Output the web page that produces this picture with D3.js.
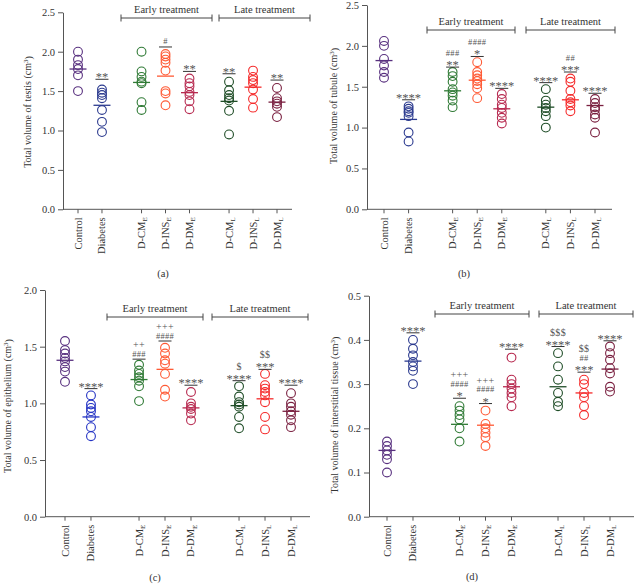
<!DOCTYPE html>
<html>
<head>
<meta charset="utf-8">
<script src="https://cdn.jsdelivr.net/npm/d3@7"></script>
<style>
  body { margin: 0; background: #fff; }
  svg { display: block; font-family: "Liberation Serif", "DejaVu Serif", serif; }
</style>
</head>
<body>
<svg id="chart" width="634" height="585"></svg>
<script>
// groups on the x axis
var groupNames = ["Control", "Diabetes", "D-CM", "D-INS", "D-DM", "D-CM", "D-INS", "D-DM"];
var groupSubs = ["", "", "E", "E", "E", "L", "L", "L"];
var groupBlock = [0, 0, 1, 1, 1, 2, 2, 2];
var groupColors = ["#58307f", "#2b3a8f", "#2f7a35", "#ff5a35", "#b7294f", "#1f4d27", "#f52a2a", "#7a2040"];

// (a) testis
var testisValues = [
  [2.0, 1.9, 1.83, 1.78, 1.7, 1.5],
  [1.52, 1.48, 1.45, 1.41, 1.26, 1.11, 0.98],
  [2.0, 1.75, 1.68, 1.62, 1.6, 1.36, 1.26],
  [1.97, 1.94, 1.9, 1.86, 1.76, 1.5, 1.47, 1.32],
  [1.66, 1.6, 1.56, 1.49, 1.45, 1.37, 1.27],
  [1.62, 1.51, 1.45, 1.41, 1.38, 1.25, 0.95],
  [1.76, 1.68, 1.64, 1.6, 1.52, 1.4, 1.29],
  [1.54, 1.41, 1.37, 1.34, 1.3, 1.17]
];
var testisMeans = [1.78, 1.32, 1.61, 1.69, 1.48, 1.37, 1.55, 1.36];
var testisSigAt = [null, 1.65, null, 2.06, 1.75, 1.72, null, 1.64];
var testisSigText = [[], ["**"], [], ["#"], ["**"], ["**"], [], ["**"]];

// (b) tubule
var tubuleValues = [
  [2.06, 2.0, 1.84, 1.76, 1.68, 1.61],
  [1.26, 1.23, 1.2, 1.18, 1.14, 0.94, 0.83],
  [1.68, 1.63, 1.56, 1.47, 1.43, 1.39, 1.33, 1.25],
  [1.8, 1.68, 1.64, 1.6, 1.57, 1.53, 1.48, 1.36],
  [1.41, 1.35, 1.28, 1.24, 1.18, 1.12, 1.05],
  [1.47, 1.33, 1.28, 1.24, 1.2, 1.14, 1.0],
  [1.6, 1.56, 1.45, 1.35, 1.31, 1.27, 1.2],
  [1.35, 1.3, 1.25, 1.22, 1.16, 1.12, 0.94]
];
var tubuleMeans = [1.82, 1.1, 1.45, 1.58, 1.23, 1.25, 1.34, 1.27];
var tubuleSigAt = [null, 1.34, 1.74, 1.87, 1.48, 1.55, 1.68, 1.42];
var tubuleSigText = [[], ["****"], ["**", "###"], ["*", "####"], ["****"], ["****"], ["***", "##"], ["****"]];

// (c) epithelium
var epitheliumValues = [
  [1.55, 1.47, 1.44, 1.4, 1.37, 1.32, 1.28, 1.19],
  [1.07, 0.99, 0.96, 0.93, 0.88, 0.79, 0.71],
  [1.34, 1.29, 1.26, 1.23, 1.2, 1.15, 1.02],
  [1.49, 1.44, 1.38, 1.35, 1.26, 1.12, 1.06],
  [1.1, 1.0, 0.97, 0.95, 0.91, 0.85],
  [1.15, 1.06, 1.01, 0.99, 0.97, 0.88, 0.78],
  [1.26, 1.16, 1.13, 1.1, 1.07, 1.01, 0.88, 0.77],
  [1.09, 1.0, 0.97, 0.93, 0.9, 0.85, 0.79]
];
var epitheliumMeans = [1.38, 0.88, 1.21, 1.30, 0.96, 0.98, 1.04, 0.93];
var epitheliumSigAt = [null, 1.13, 1.39, 1.55, 1.16, 1.2, 1.3, 1.16];
var epitheliumSigText = [[], ["****"], ["###", "++"], ["####", "+++"], ["****"], ["****", "$"], ["***", "$$"], ["****"]];

// (d) interstitial tissue
var interstitialValues = [
  [0.17, 0.16, 0.15, 0.14, 0.13, 0.10],
  [0.40, 0.38, 0.365, 0.35, 0.34, 0.33, 0.30],
  [0.25, 0.24, 0.23, 0.22, 0.20, 0.17],
  [0.24, 0.21, 0.20, 0.19, 0.18, 0.16],
  [0.36, 0.31, 0.30, 0.29, 0.28, 0.27, 0.25],
  [0.37, 0.34, 0.31, 0.28, 0.26, 0.25],
  [0.31, 0.30, 0.28, 0.27, 0.25, 0.23],
  [0.385, 0.37, 0.355, 0.336, 0.324, 0.294, 0.283]
];
var interstitialMeans = [0.15, 0.352, 0.209, 0.207, 0.294, 0.294, 0.28, 0.334];
var interstitialSigAt = [null, 0.416, 0.268, 0.256, 0.379, 0.385, 0.327, 0.398];
var interstitialSigText = [[], ["****"], ["*", "####", "+++"], ["*", "####", "+++"], ["****"], ["****", "$$$"], ["***", "##", "$$"], ["****"]];

var svg = d3.select("#chart");

// vertical nudge so each symbol row sits centred where it should
function glyphShift(s) {
  if (s[0] == "*") return 7.5;
  if (s[0] == "#") return 3;
  if (s[0] == "+") return 3.5;
  return 3.5;
}
function glyphSize(s) {
  if (s[0] == "*") return 12.5;
  if (s[0] == "#") return 8.5;
  return 10;
}

function drawPanel(p) {
  var g = svg.append("g");

  // y scale
  var y = d3.scaleLinear().domain([0, p.yMax]).range([p.y0, p.yTop]);

  // x: slot index with gaps between the blocks
  var slots = groupNames.map((d, i) => i + groupBlock[i] * p.gap);
  var x = d3.scaleLinear().domain([0, 7 + 2 * p.gap]).range([p.xFirst, p.xLast]);

  // y axis
  var yAxis = g.append("g")
    .attr("transform", "translate(" + p.axisX + ",0)")
    .call(d3.axisLeft(y).tickValues(p.yTicks).tickFormat(d3.format(".1f")).tickSize(5).tickSizeOuter(0).tickPadding(3));
  yAxis.select(".domain").attr("stroke", "#555");
  yAxis.selectAll(".tick line").attr("stroke", "#555");
  yAxis.selectAll(".tick text")
    .attr("fill", "#333")
    .style("font-family", "Liberation Serif")
    .style("font-size", "10.5px");

  // x axis line + ticks
  g.append("line")
    .attr("x1", p.axisX).attr("x2", p.axisRight)
    .attr("y1", p.y0).attr("y2", p.y0)
    .attr("stroke", "#555");
  g.selectAll(".xtick")
    .data(slots)
    .enter()
    .append("line")
    .attr("x1", d => x(d)).attr("x2", d => x(d))
    .attr("y1", p.y0).attr("y2", p.y0 + 4)
    .attr("stroke", "#555");

  // rotated x labels
  var xl = g.selectAll(".xlab")
    .data(groupNames)
    .enter()
    .append("text")
    .attr("transform", (d, i) => "translate(" + (x(slots[i]) + 3.5) + "," + (p.y0 + 8) + ") rotate(-90)")
    .attr("text-anchor", "end")
    .attr("fill", "#333")
    .style("font-size", "10.5px");
  xl.append("tspan").text(d => d);
  xl.append("tspan")
    .attr("dy", "0.3em")
    .style("font-size", "7px")
    .text((d, i) => groupSubs[i]);

  // y axis title
  var title = g.append("text")
    .attr("transform", "translate(" + p.titleX + "," + p.titleY + ") rotate(-90)")
    .attr("text-anchor", "middle")
    .attr("fill", "#333")
    .style("font-size", "10px");
  title.append("tspan").text(p.title + " (cm");
  title.append("tspan").attr("dy", "-0.4em").style("font-size", "7px").text("3");
  title.append("tspan").attr("dy", "0.4em").text(")");

  // brackets
  p.brackets.forEach(function (b) {
    g.append("line")
      .attr("x1", b[0]).attr("x2", b[1])
      .attr("y1", p.bracketY).attr("y2", p.bracketY)
      .attr("stroke", "#444");
    [b[0], b[1]].forEach(function (bx) {
      g.append("line")
        .attr("x1", bx).attr("x2", bx)
        .attr("y1", p.bracketY - 3.5).attr("y2", p.bracketY + 3.5)
        .attr("stroke", "#444");
    });
    g.append("text")
      .attr("x", (b[0] + b[1]) / 2)
      .attr("y", p.bracketY - 5)
      .attr("text-anchor", "middle")
      .attr("fill", "#333")
      .style("font-size", "10.5px")
      .text(b[2]);
  });

  // points
  p.values.forEach(function (vals, i) {
    g.selectAll(null)
      .data(vals)
      .enter()
      .append("circle")
      .attr("cx", x(slots[i]))
      .attr("cy", d => y(d))
      .attr("r", 4.4)
      .attr("fill", "none")
      .attr("stroke", p.colors[i])
      .attr("stroke-width", 1.1);
  });

  // mean lines
  g.selectAll(".mean")
    .data(p.means)
    .enter()
    .append("line")
    .attr("x1", (d, i) => x(slots[i]) - 8.5)
    .attr("x2", (d, i) => x(slots[i]) + 8.5)
    .attr("y1", d => y(d)).attr("y2", d => y(d))
    .attr("stroke", (d, i) => p.colors[i])
    .attr("stroke-width", 1.3);

  // significance marks
  p.sigAt.forEach(function (v, i) {
    if (v == null) return;
    var cx = x(slots[i]);
    var ly = y(v);
    g.append("line")
      .attr("x1", cx - 6.5).attr("x2", cx + 6.5)
      .attr("y1", ly).attr("y2", ly)
      .attr("stroke", "#333");
    p.sigText[i].forEach(function (s, k) {
      var c = ly - 5.5 - k * 9;
      g.append("text")
        .attr("x", cx)
        .attr("y", c + glyphShift(s))
        .attr("text-anchor", "middle")
        .attr("fill", "#555")
        .style("font-size", glyphSize(s) + "px")
        .style("letter-spacing", s[0] == "*" ? "0px" : "0.3px")
        .text(s);
    });
  });

  // panel letter
  g.append("text")
    .attr("x", p.labelX).attr("y", p.labelY)
    .attr("text-anchor", "middle")
    .attr("fill", "#333")
    .style("font-size", "10.5px")
    .text(p.label);
}

var colorsC = groupColors.slice();
colorsC[1] = "#2433c4";

drawPanel({
  values: testisValues, means: testisMeans, sigAt: testisSigAt, sigText: testisSigText,
  colors: groupColors, title: "Total volume of testis",
  yMax: 2.5, yTicks: [0, 0.5, 1, 1.5, 2, 2.5], y0: 209.3, yTop: 12.3,
  axisX: 63, axisRight: 292, xFirst: 78, xLast: 277, gap: 0.65,
  brackets: [[121, 212, "Early treatment"], [219, 310, "Late treatment"]], bracketY: 18,
  titleX: 31, titleY: 112, label: "(a)", labelX: 163, labelY: 277
});
drawPanel({
  values: tubuleValues, means: tubuleMeans, sigAt: tubuleSigAt, sigText: tubuleSigText,
  colors: groupColors, title: "Total volume of tubule",
  yMax: 2.5, yTicks: [0, 0.5, 1, 1.5, 2, 2.5], y0: 209.3, yTop: 5,
  axisX: 367, axisRight: 612, xFirst: 384, xLast: 595, gap: 0.79,
  brackets: [[427, 515, "Early treatment"], [526, 615, "Late treatment"]], bracketY: 30,
  titleX: 337, titleY: 106, label: "(b)", labelX: 464, labelY: 277
});
drawPanel({
  values: epitheliumValues, means: epitheliumMeans, sigAt: epitheliumSigAt, sigText: epitheliumSigText,
  colors: colorsC, title: "Total volume of epithelium",
  yMax: 2.0, yTicks: [0, 0.5, 1, 1.5, 2], y0: 516.7, yTop: 290,
  axisX: 45, axisRight: 310, xFirst: 65, xLast: 291, gap: 0.85,
  brackets: [[107, 203, "Early treatment"], [212, 308, "Late treatment"]], bracketY: 317,
  titleX: 11, titleY: 406, label: "(c)", labelX: 155, labelY: 581
});
drawPanel({
  values: interstitialValues, means: interstitialMeans, sigAt: interstitialSigAt, sigText: interstitialSigText,
  colors: groupColors, title: "Total volume of interstitial tissue",
  yMax: 0.5, yTicks: [0, 0.1, 0.2, 0.3, 0.4, 0.5], y0: 516.7, yTop: 295.7,
  axisX: 369, axisRight: 634, xFirst: 387, xLast: 610, gap: 0.79,
  brackets: [[435, 529, "Early treatment"], [539, 633, "Late treatment"]], bracketY: 314,
  titleX: 338, titleY: 415, label: "(d)", labelX: 472, labelY: 580
});
</script>
</body>
</html>
